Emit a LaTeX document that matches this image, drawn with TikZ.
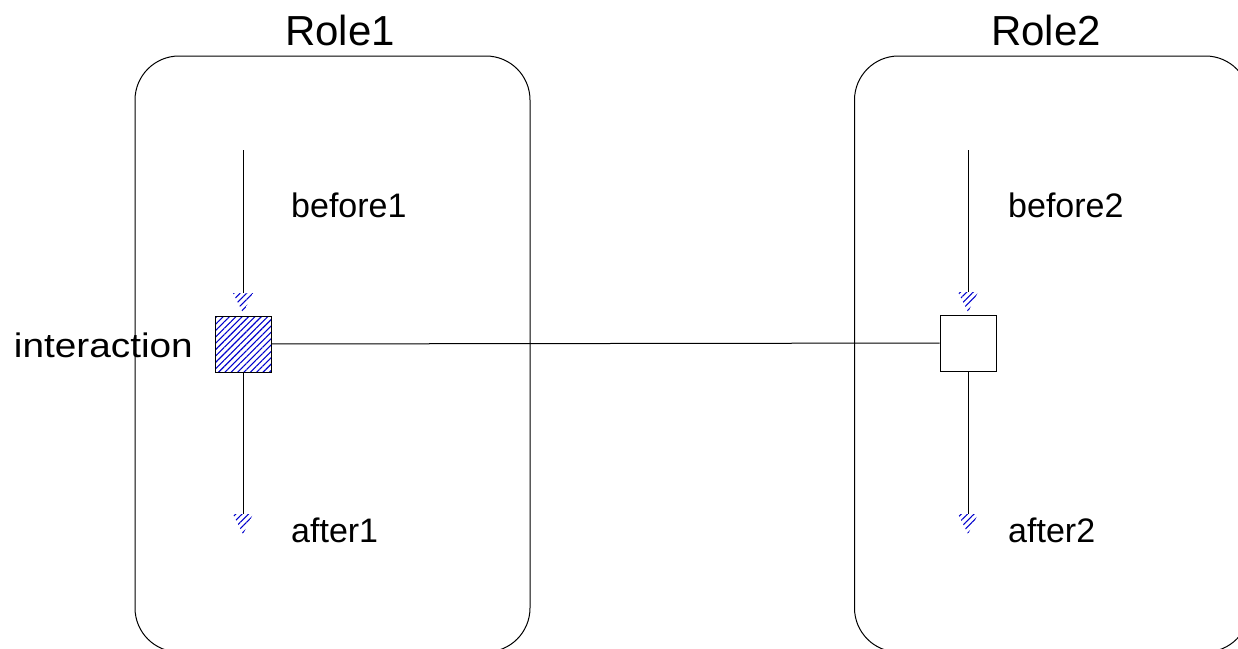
\documentclass[tikz,border=0pt]{standalone}
\usepackage{fontspec}
\setmainfont{Liberation Sans}
\usetikzlibrary{patterns.meta}
\tikzstyle{rolebox}=[draw=black,line width=1pt,rounded corners=44pt,minimum width=395pt,minimum height=596pt,inner sep=0pt]
\tikzstyle{act}=[draw=black,line width=1pt,minimum size=56pt,inner sep=0pt]
\tikzstyle{hatch}=[pattern={Lines[angle=45,distance=4.5pt,line width=1.1pt]},pattern color=blue!80!black]
\tikzstyle{lbl}=[font=\fontsize{34}{40}\selectfont,inner sep=0pt]
\tikzstyle{rlbl}=[font=\fontsize{42}{48}\selectfont,inner sep=0pt]
\tikzstyle{line}=[draw=black,line width=1pt]
% hatched tip, point at #1
\newcommand{\hatchtip}[1]{\fill[hatch] (#1) ++(-10,-20) -- ++(20,0) -- ++(-10,20) -- cycle;}

\begin{document}
\begin{tikzpicture}[x=1pt,y=-1pt]
	\clip (0,0) rectangle (1238,648);
	\useasboundingbox (0,0) rectangle (1238,648);
	% roles
	\node[rolebox] (role1) at (332.5,354) {};
	\node[rolebox] (role2) at (1052,354) {};
	\node[rlbl,anchor=base] (role1lbl) at (340,45) {Role1};
	\node[rlbl,anchor=base] (role2lbl) at (1046,45) {Role2};
	% interactions
	\node[act,hatch] (act1) at (243,344) {};
	\node[act] (act2) at (968,343) {};
	\draw[line] (act1) -- (act2);
	% lifeline 1
	\coordinate (top1) at (243,150);
	\coordinate (tipa1) at (243,313);
	\coordinate (tipb1) at (243,534);
	\draw[line] (top1) -- ([yshift=20]tipa1);
	\hatchtip{tipa1}
	\draw[line] (act1.south) -- ([yshift=20]tipb1);
	\hatchtip{tipb1}
	% lifeline 2
	\coordinate (top2) at (968,150);
	\coordinate (tipa2) at (968,312);
	\coordinate (tipb2) at (968,534);
	\draw[line] (top2) -- ([yshift=20]tipa2);
	\hatchtip{tipa2}
	\draw[line] (act2.south) -- ([yshift=20]tipb2);
	\hatchtip{tipb2}
	% labels
	\node[lbl,anchor=base west] (bef1) at (291,217) {before1};
	\node[lbl,anchor=base west] (aft1) at (291,542) {after1};
	\node[lbl,anchor=base west] (bef2) at (1008,217) {before2};
	\node[lbl,anchor=base west] (aft2) at (1008,542) {after2};
	\node[lbl,anchor=base east] (inter) at (193,357) {\scalebox{1.14}[1]{interaction}};
\end{tikzpicture}
\end{document}
